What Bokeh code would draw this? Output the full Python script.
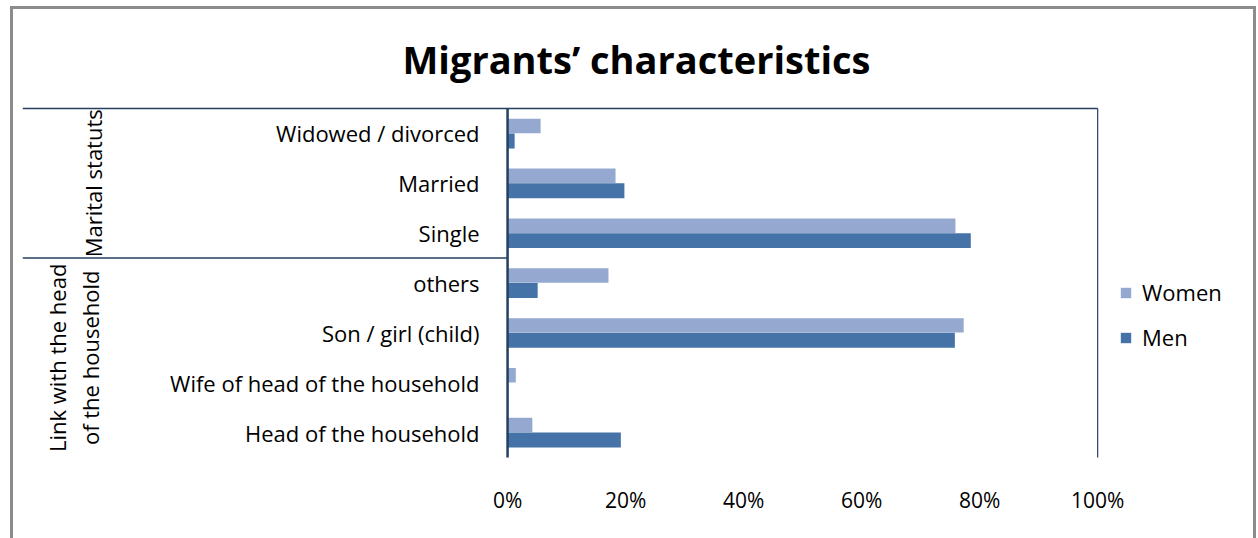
import math
from bokeh.plotting import figure
from bokeh.models import (Range1d, FactorRange, FixedTicker, NumeralTickFormatter,
                          Legend, LegendItem, ColumnDataSource)
from bokeh.transform import dodge
from bokeh.core.properties import value
from bokeh.embed import file_html
from bokeh.resources import INLINE

# ---------------- data ----------------
categories = ["Head of the household", "Wife of head of the household",
              "Son / girl (child)", "others", "Single", "Married",
              "Widowed / divorced"]
group_names = ["Link with the head\nof the household", "Marital statuts"]
group_sizes = [4, 3]
women = [0.042, 0.014, 0.773, 0.171, 0.759, 0.183, 0.056]
men = [0.192, 0.0, 0.758, 0.051, 0.785, 0.198, 0.012]
x_ticks = [0, 0.2, 0.4, 0.6, 0.8, 1.0]
series = ["Women", "Men"]
title_text = "Migrants\u2019 characteristics"

# ---------------- styling ----------------
FONT = "Open Sans"
C_WOMEN = "#95A9D0"
C_MEN = "#4573A8"
C_LINE = "#243F60"
C_FRAME = "#8C8C8C"

X0 = -0.822
X1 = 1.259

g = "linear-gradient(%s,%s)" % (C_FRAME, C_FRAME)
page_bg = (g + " 10px 6px / 3px 600px no-repeat, "
           + g + " 10px 6px / 1246px 3px no-repeat, "
           + g + " 1253px 6px / 3px 600px no-repeat, #FFFFFF")

p = figure(width=1258, height=538, output_backend="svg", toolbar_location=None,
           x_range=Range1d(X0, X1),
           y_range=FactorRange(factors=categories, range_padding=0.06,
                               range_padding_units="absolute"),
           y_axis_location=None, x_axis_location="below",
           min_border_left=22, min_border_right=8,
           min_border_top=105, min_border_bottom=78,
           background_fill_color="white", border_fill_alpha=0)
p.styles = {"background": page_bg}
p.outline_line_color = None
p.xgrid.visible = False
p.ygrid.visible = False

src = ColumnDataSource(dict(cat=categories, women=women, men=men))
rw = p.hbar(y=dodge("cat", 0.15, range=p.y_range), right="women", left=0,
            height=0.29, source=src, fill_color=C_WOMEN, line_color=None)
rm = p.hbar(y=dodge("cat", -0.15, range=p.y_range), right="men", left=0,
            height=0.30, source=src, fill_color=C_MEN, line_color=None)

# category labels
p.text(x=0, y="cat", text="cat", source=src, x_offset=-28,
       text_align="right", text_baseline="middle",
       text_font=value(FONT), text_font_size="22px", text_color="#000000")

# group labels (rotated)
g_centers = []
acc = 0
for s in group_sizes:
    g_centers.append(acc + s / 2)
    acc += s
p.text(x=[X0, X0], y=g_centers, text=group_names, x_offset=[51, 70],
       angle=math.pi / 2, text_align="center", text_baseline="middle",
       text_font=value(FONT), text_font_size="22px", text_color="#000000",
       text_line_height=1.1)

# frame / separator lines
n = len(categories)
p.segment(x0=[X0, X0], y0=[n, group_sizes[0]],
          x1=[1.0, 0.0], y1=[n, group_sizes[0]],
          line_color=C_LINE, line_width=1.5)
p.segment(x0=[1.0], y0=[0], x1=[1.0], y1=[n], line_color=C_LINE, line_width=1.2)
p.segment(x0=[0], y0=[0], x1=[0], y1=[n], line_color=C_LINE, line_width=2.5)

# x axis
ax = p.xaxis[0]
ax.ticker = FixedTicker(ticks=x_ticks)
ax.formatter = NumeralTickFormatter(format="0%")
ax.axis_line_color = None
ax.major_tick_line_color = None
ax.minor_tick_line_color = None
ax.major_label_standoff = 19
ax.major_label_text_font = FONT
ax.major_label_text_font_size = "21px"
ax.major_label_text_color = "#000000"

# legend
legend = Legend(items=[LegendItem(label=series[0], renderers=[rw]),
                       LegendItem(label=series[1], renderers=[rm])],
                location=(1097, 108), orientation="vertical",
                glyph_width=13, glyph_height=13, label_height=30,
                label_standoff=10, spacing=15, padding=0, margin=0,
                label_text_font=FONT, label_text_font_size="22px",
                label_text_color="#000000",
                border_line_color=None, background_fill_alpha=0)
p.add_layout(legend)

# title
p.title.text = title_text
p.title.align = "center"
p.title.text_font = FONT
p.title.text_font_size = "38px"
p.title.text_font_style = "bold"
p.title.text_color = "#000000"
p.title.standoff = 42

open("out.html", "w").write(file_html(p, INLINE))
